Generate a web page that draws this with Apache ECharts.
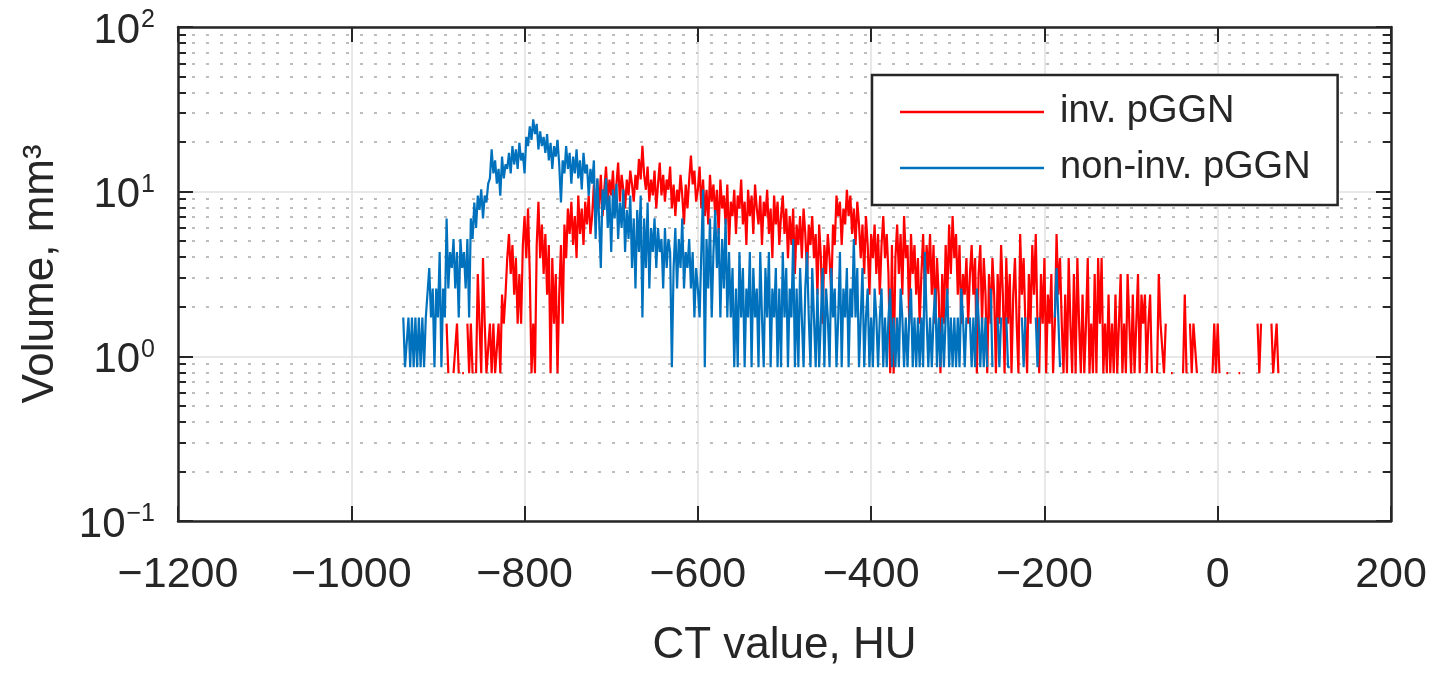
<!DOCTYPE html>
<html>
<head>
<meta charset="utf-8">
<title>CT value histogram</title>
<script src="https://cdn.jsdelivr.net/npm/echarts/dist/echarts.min.js"></script>
<style>
  html, body { margin: 0; padding: 0; background: #fff; }
  #chart { width: 1431px; height: 673px; }
</style>
</head>
<body>
<div id="chart"></div>
<script>
// histogram bins, 2 HU wide, counts of voxels per bin
var binStep = 2;
var invStart = -890;       // inv. pGGN, first bin (HU)
var invVoxel = 0.79;       // mm3 per voxel
var invCounts = [
  2,1,0,0,1,1,2,1,0,1, 1,0,2,1,2,1,0,1,4,2, 1,5,2,1,1,2,1,2,1,1,
  2,1,3,2,3,5,7,4,6,3, 5,2,4,2,6,9,5,10,4,1, 2,1,6,11,5,8,4,7,3,6,
  1,5,2,4,1,3,6,2,8,5, 10,7,11,6,9,5,12,7,10,6, 11,8,12,7,9,14,8,15,10,16,
  9,13,18,11,15,12,17,10,14,19, 11,16,13,10,15,12,17,14,11,16, 13,20,15,24,16,13,18,11,15,12,
  17,10,14,19,12,16,11,15,13,18, 10,14,9,13,11,16,12,8,14,10, 15,21,14,17,11,13,18,10,15,9,
  13,8,16,11,14,9,13,7,15,10, 12,8,14,6,11,9,13,7,12,10, 15,8,11,6,13,9,12,7,14,10,
  8,12,6,11,9,13,7,10,5,12, 8,11,6,9,12,7,10,5,9,6, 10,4,8,6,9,5,10,7,4,8,
  6,9,5,7,3,8,5,2,6,4, 7,5,3,8,6,12,9,11,6,10, 8,13,9,12,7,10,6,11,8,5,
  8,4,9,6,3,7,5,8,4,7, 3,6,9,5,7,4,1,6,1,5, 8,4,7,3,9,5,6,2,7,4,
  6,3,5,2,4,7,3,6,4,7, 3,6,2,5,3,1,4,2,6,3, 8,4,9,5,7,3,6,2,4,3,
  5,2,4,6,3,5,1,4,6,2, 5,3,1,4,2,5,3,1,4,2, 6,3,1,5,2,4,1,3,5,2,
  1,7,3,5,2,1,4,2,6,3, 7,2,1,4,2,5,1,3,2,4, 1,2,7,3,5,2,1,3,1,5,
  2,1,4,1,5,2,1,3,1,2, 5,1,2,1,4,1,5,2,5,1, 2,1,3,1,2,1,3,1,2,4,
  1,2,1,4,2,1,3,1,2,4, 1,3,2,3,1,2,3,1,0,0, 1,4,2,2,1,2,0,0,1,1,
  0,2,0,0,0,1,3,1,0,2, 1,2,2,1,0,0,0,0,0,0, 0,0,1,2,1,2,1,0,0,0,
  1,1,0,0,0,0,0,1,1,0, 0,0,0,0,0,0,0,0,2,1, 2,0,0,0,0,0,2,1,1,2,
  1
];

var nonInvStart = -940;    // non-inv. pGGN, first bin (HU)
var nonInvVoxel = 0.86;
var nonInvCounts = [
  2,1,1,2,1,2,1,2,1,2, 1,2,1,2,2,4,2,3,1,3, 2,5,1,3,2,8,3,5,4,6,
  3,5,2,6,4,5,3,6,2,8, 6,10,7,11,9,12,8,11,10,13, 14,21,15,18,13,16,11,19,14,17,
  16,20,15,22,17,21,16,23,18,20, 15,25,22,29,24,32,26,30,21,27, 22,25,20,26,18,23,16,22,19,24,
  17,10,18,15,22,16,20,13,19,15, 21,14,18,12,20,15,17,11,16,13, 18,6,14,8,4,12,9,14,7,11,
  5,12,8,13,6,10,7,12,5,9, 6,11,4,8,3,9,5,11,2,8, 4,10,3,7,5,8,4,7,5,6,
  3,7,4,6,5,1,4,7,3,6, 4,8,3,5,4,6,3,5,2,4, 3,2,5,12,1,6,3,8,2,5,
  9,4,7,2,6,3,8,2,5,2, 4,1,3,1,5,2,4,1,3,2, 5,1,4,2,3,1,5,2,1,4,
  2,5,1,3,2,4,1,3,1,5, 2,4,1,3,2,6,1,3,1,4, 2,1,3,5,2,1,4,2,1,3,
  1,2,4,1,3,2,1,4,2,3, 1,2,5,1,3,2,4,1,3,2, 6,2,4,1,2,4,1,2,3,1,
  2,1,3,2,1,2,3,1,2,1, 2,3,1,2,1,2,1,3,2,1, 2,1,2,3,1,2,1,2,1,2,
  1,5,2,1,2,1,2,3,1,2, 1,2,1,2,3,1,2,1,2,1, 2,1,3,2,1,2,0,2,1,2,
  1,3,2,1,2,1,2,1,0,3, 1,0,0,2,1,2,0,0,2,1, 1,0,0,0,0,0,0,2,1,2,
  0,0,0,0,0,2,1,2,0,0, 0,0,0,0,0,0,2,4,2,1
];

var xTicks = [-1200, -1000, -800, -600, -400, -200, 0, 200];
var yMinorTicks = [0.2,0.3,0.4,0.5,0.6,0.7,0.8,0.9, 2,3,4,5,6,7,8,9, 20,30,40,50,60,70,80,90];

var FONT = "'Liberation Sans', Arial, Helvetica, sans-serif";
var INK = "#262626";

// empty bins have no volume on a log axis, leave a gap
function toSeries(start, counts, voxel) {
  var out = [];
  for (var i = 0; i < counts.length; i++) {
    out.push([start + i * binStep, counts[i] > 0 ? counts[i] * voxel : null]);
  }
  return out;
}

function xLabel(v) {
  return v < 0 ? "\u2212" + Math.abs(v) : String(v);
}
function yLabel(v) {
  var e = Math.round(Math.log(v) / Math.LN10);
  return "{b|10}{s|" + (e < 0 ? "\u2212" + (-e) : e) + "}";
}

var myChart = echarts.init(document.getElementById("chart"));
var option = {
  animation: false,
  backgroundColor: "#fff",
  grid: { left: 178, right: 40, top: 27, bottom: 148, containLabel: false },
  legend: {
    orient: "vertical",
    left: 872,
    top: 75,
    data: ["inv. pGGN", "non-inv. pGGN"],
    icon: "rect",
    itemWidth: 144,
    itemHeight: 2.5,
    itemGap: 16,
    padding: [17, 27, 17, 28],
    borderColor: INK,
    borderWidth: 2.5,
    borderRadius: 0,
    backgroundColor: "#fff",
    textStyle: { fontFamily: FONT, fontSize: 38, lineHeight: 40, color: INK, padding: [0, 0, 0, 11] }
  },
  xAxis: [
    {
      type: "value",
      min: xTicks[0],
      max: xTicks[xTicks.length - 1],
      interval: 200,
      name: "CT value, HU",
      nameLocation: "middle",
      nameGap: 103,
      nameTextStyle: { fontFamily: FONT, fontSize: 44, color: INK },
      axisLine: { show: true, onZero: false, lineStyle: { color: INK, width: 2.5 } },
      axisTick: { show: true, inside: true, length: 15, lineStyle: { color: INK, width: 2 } },
      axisLabel: { fontFamily: FONT, fontSize: 43, color: INK, margin: 33, formatter: xLabel },
      splitLine: { show: true, lineStyle: { color: "#e0e0e0", width: 1.5 } }
    },
    {
      type: "value",
      position: "top",
      min: xTicks[0],
      max: xTicks[xTicks.length - 1],
      interval: 200,
      axisLine: { show: true, onZero: false, lineStyle: { color: INK, width: 2.5 } },
      axisTick: { show: true, inside: true, length: 15, lineStyle: { color: INK, width: 2 } },
      axisLabel: { show: false },
      splitLine: { show: false }
    }
  ],
  yAxis: [
    {
      type: "log",
      logBase: 10,
      min: 0.1,
      max: 100,
      name: "Volume, mm\u00b3",
      nameLocation: "middle",
      nameGap: 115,
      nameTextStyle: { fontFamily: FONT, fontSize: 44, color: INK },
      axisLine: { show: true, onZero: false, lineStyle: { color: INK, width: 2.5 } },
      axisTick: { show: true, inside: true, length: 15, lineStyle: { color: INK, width: 2 } },
      axisLabel: {
        margin: 23,
        formatter: yLabel,
        rich: {
          b: { fontFamily: FONT, fontSize: 42, color: INK, padding: [8, 0, 0, 0] },
          s: { fontFamily: FONT, fontSize: 25, color: INK, verticalAlign: "top", padding: [6, 0, 0, 1] }
        }
      },
      splitLine: { show: true, lineStyle: { color: "#e0e0e0", width: 1.5 } }
    },
    {
      // minor decades: dotted grid and short ticks
      type: "log",
      logBase: 10,
      min: 0.1,
      max: 100,
      position: "left",
      axisLine: { show: false, onZero: false },
      axisTick: { show: true, inside: true, length: 8, customValues: yMinorTicks, lineStyle: { color: INK, width: 2 } },
      axisLabel: { show: false },
      splitLine: { show: true, lineStyle: { color: "#a8a8a8", width: 1.5, type: [3, 11] } }
    },
    {
      type: "log",
      logBase: 10,
      min: 0.1,
      max: 100,
      position: "right",
      axisLine: { show: true, onZero: false, lineStyle: { color: INK, width: 2.5 } },
      axisTick: { show: true, inside: true, length: 15, lineStyle: { color: INK, width: 2 } },
      axisLabel: { show: false },
      splitLine: { show: false }
    },
    {
      type: "log",
      logBase: 10,
      min: 0.1,
      max: 100,
      position: "right",
      axisLine: { show: false, onZero: false },
      axisTick: { show: true, inside: true, length: 8, customValues: yMinorTicks, lineStyle: { color: INK, width: 2 } },
      axisLabel: { show: false },
      splitLine: { show: false }
    }
  ],
  series: [
    {
      name: "inv. pGGN",
      type: "line",
      xAxisIndex: 0,
      yAxisIndex: 0,
      data: toSeries(invStart, invCounts, invVoxel),
      symbol: "none",
      showSymbol: false,
      connectNulls: false,
      color: "#ff0000",
      lineStyle: { color: "#ff0000", width: 2.2 }
    },
    {
      name: "non-inv. pGGN",
      type: "line",
      xAxisIndex: 0,
      yAxisIndex: 0,
      data: toSeries(nonInvStart, nonInvCounts, nonInvVoxel),
      symbol: "none",
      showSymbol: false,
      connectNulls: false,
      color: "#0072bd",
      lineStyle: { color: "#0072bd", width: 2.2 }
    }
  ]
};
myChart.setOption(option);
</script>
</body>
</html>
